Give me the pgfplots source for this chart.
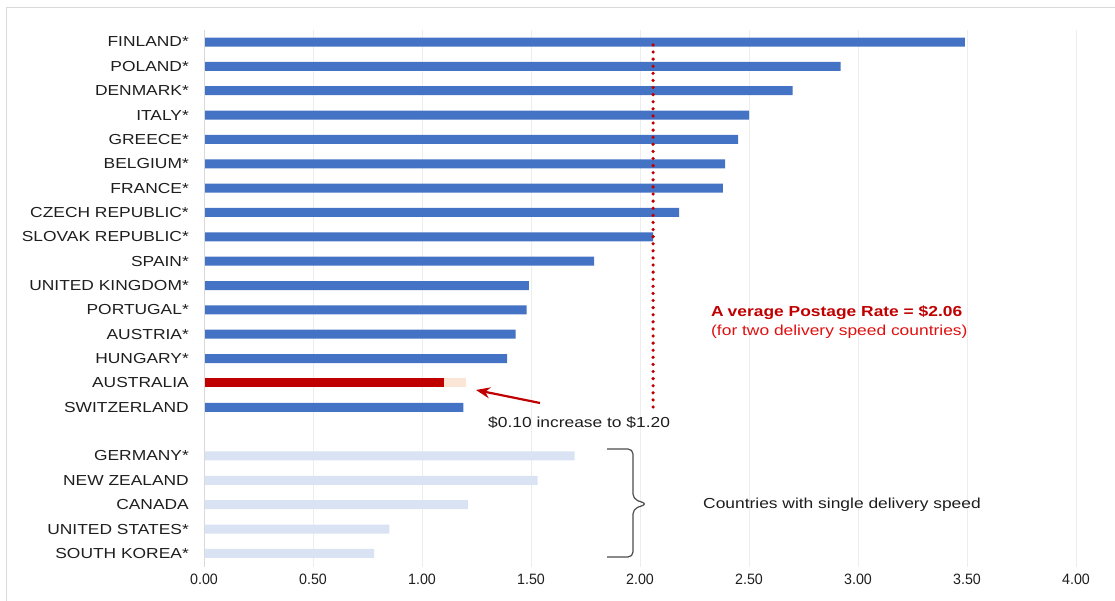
\documentclass[border=0pt]{standalone}
\usepackage{fontspec}
\setmainfont{Liberation Sans}[FakeStretch=1.2]
\newfontfamily\tickfont{Liberation Sans}[FakeStretch=0.95]
\usepackage{pgfplots}
\pgfplotsset{compat=1.18}
\usetikzlibrary{arrows.meta}
\definecolor{barblue}{HTML}{4472C4}
\definecolor{barred}{HTML}{C00000}
\definecolor{lightred}{HTML}{E01010}
\definecolor{barpeach}{HTML}{FBE5D6}
\definecolor{barlight}{HTML}{DAE3F3}
\definecolor{gridgray}{HTML}{EDEDED}
\definecolor{axisgray}{HTML}{D9D9D9}
\definecolor{txt}{HTML}{1E1E1E}
\newcommand\lf{\fontsize{14.5bp}{17bp}\selectfont}
\begin{document}
\begin{tikzpicture}
\path[use as bounding box] (0,0) rectangle (1115bp,601bp);
\begin{axis}[
  at={(204bp,34bp)}, anchor=south west,
  width=872bp, height=537bp, scale only axis,
  xmin=0, xmax=4, ymin=-0.493, ymax=21.56, y dir=reverse,
  xbar, bar width=0.37,
  xtick={0,0.5,1,1.5,2,2.5,3,3.5,4},
  xticklabel style={/pgf/number format/fixed, /pgf/number format/fixed zerofill, /pgf/number format/precision=2, /pgf/number format/assume math mode=true,
    font=\tickfont\fontsize{15bp}{17bp}\selectfont, text=txt, inner sep=0pt, anchor=north, yshift=-7bp},
  xmajorgrids, grid style={gridgray, line width=1bp},
  major tick length=0,
  axis line style={draw=none},
  ytick={0,1,2,3,4,5,6,7,8,9,10,11,12,13,14,15,17,18,19,20,21},
  yticklabels={FINLAND*, POLAND*, DENMARK*, ITALY*, GREECE*, BELGIUM*, FRANCE*, CZECH REPUBLIC*, SLOVAK REPUBLIC*, SPAIN*, UNITED KINGDOM*, PORTUGAL*, AUSTRIA*, HUNGARY*, AUSTRALIA, SWITZERLAND, GERMANY*, NEW ZEALAND, CANADA, UNITED STATES*, SOUTH KOREA*},
  yticklabel style={font=\lf, text=txt, inner sep=0pt, anchor=east, xshift=-15bp},
]
\addplot[fill=barblue, draw=none, bar shift=0pt] coordinates {
  (3.49,0) (2.92,1) (2.70,2) (2.50,3) (2.45,4) (2.39,5) (2.38,6) (2.18,7)
  (2.06,8) (1.79,9) (1.49,10) (1.48,11) (1.43,12) (1.39,13) (1.19,15)};
\addplot[fill=barpeach, draw=none, bar shift=0pt] coordinates {(1.20,14)};
\addplot[fill=barred, draw=none, bar shift=0pt] coordinates {(1.10,14)};
\addplot[fill=barlight, draw=none, bar shift=0pt] coordinates {
  (1.70,17) (1.53,18) (1.21,19) (0.85,20) (0.78,21)};
\addplot[sharp plot, barred, line width=3.6bp, line cap=round, dash pattern=on 0bp off 7.1bp] coordinates {(2.06,0.12) (2.06,15.2)};
\end{axis}
\begin{scope}[x=1bp, y=-1bp, shift={(0bp,601bp)}]
  \draw[axisgray, line width=1bp] (6,601) -- (6,8) -- (1115,8);
  \draw[axisgray, line width=1bp] (204,30) -- (204,567);
  \node[anchor=west, inner sep=0pt, text=barred, font=\lf\bfseries] at (711,313) {A\kern4bp verage Postage Rate = \$2.06};
  \node[anchor=west, inner sep=0pt, text=lightred, font=\lf] at (711,332) {(for two delivery speed countries)};
  \node[anchor=west, inner sep=0pt, text=txt, font=\lf] at (488,423) {\$0.10 increase to \$1.20};
  \node[anchor=west, inner sep=0pt, text=txt, font=\lf] at (703,505) {Countries with single delivery speed};
  \draw[barred, line width=2.2bp, -{Stealth[length=14bp,width=11bp]}] (540,403) -- (476,390);
  \draw[black!70, line width=1.2bp, rounded corners=5bp] (607,449) -- (633,449) -- (633,499) -- (647,504) -- (633,509) -- (633,557) -- (607,557);
\end{scope}
\end{tikzpicture}
\end{document}
